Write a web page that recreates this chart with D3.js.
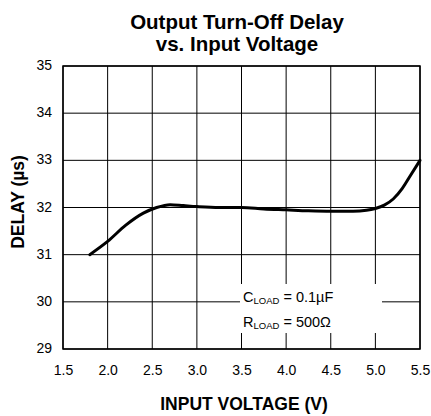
<!DOCTYPE html>
<html><head><meta charset="utf-8">
<script src="https://cdn.jsdelivr.net/npm/d3@7/dist/d3.min.js"></script>
<style>body{margin:0;background:#fff;}svg{display:block;font-family:"Liberation Sans",Arial,sans-serif;}</style>
</head><body>
<script>
const voltage = [1.8, 2.0, 2.2, 2.4, 2.55, 2.7, 2.85, 3.0, 3.25, 3.5, 3.75, 4.0, 4.25, 4.5, 4.75, 4.9, 5.0, 5.1, 5.2, 5.3, 5.4, 5.5];
const delay   = [31.0, 31.28, 31.62, 31.88, 32.0, 32.06, 32.04, 32.02, 32.0, 32.0, 31.97, 31.95, 31.93, 31.92, 31.92, 31.94, 31.98, 32.05, 32.18, 32.4, 32.7, 33.0];
const xTicks = [1.5, 2.0, 2.5, 3.0, 3.5, 4.0, 4.5, 5.0, 5.5];
const yTicks = [29, 30, 31, 32, 33, 34, 35];

const W = 431, H = 416;
const m = {l: 63, r: 11, t: 66, b: 67};
const svg = d3.select("body").append("svg").attr("width", W).attr("height", H);
const x = d3.scaleLinear().domain([1.5, 5.5]).range([m.l, W - m.r]);
const y = d3.scaleLinear().domain([29, 35]).range([H - m.b, m.t]);

// grid
svg.append("g").selectAll("line").data(xTicks).join("line")
  .attr("x1", d => x(d)).attr("x2", d => x(d)).attr("y1", y(29)).attr("y2", y(35))
  .attr("stroke", "#000").attr("stroke-width", 1);
svg.append("g").selectAll("line").data(yTicks).join("line")
  .attr("y1", d => y(d)).attr("y2", d => y(d)).attr("x1", x(1.5)).attr("x2", x(5.5))
  .attr("stroke", "#000").attr("stroke-width", 1);

// legend box (white)
svg.append("rect").attr("x", 240).attr("y", 284).attr("width", 142).attr("height", 49).attr("fill", "#fff");

// frame
svg.append("rect").attr("x", x(1.5)).attr("y", y(35)).attr("width", x(5.5) - x(1.5)).attr("height", y(29) - y(35))
  .attr("fill", "none").attr("stroke", "#000").attr("stroke-width", 1.5);

// axes labels
const xa = d3.axisBottom(x).tickValues(xTicks).tickFormat(d3.format(".1f")).tickSize(0).tickPadding(16);
svg.append("g").attr("transform", `translate(0,${y(29)})`).call(xa)
  .call(g => g.select(".domain").remove())
  .selectAll("text").attr("font-size", 14).attr("font-family", "Liberation Sans, Arial, sans-serif").attr("fill", "#000");
const ya = d3.axisLeft(y).tickValues(yTicks).tickFormat(d3.format("d")).tickSize(0).tickPadding(11);
svg.append("g").attr("transform", `translate(${x(1.5)},0)`).call(ya)
  .call(g => g.select(".domain").remove())
  .selectAll("text").attr("font-size", 14).attr("font-family", "Liberation Sans, Arial, sans-serif").attr("fill", "#000")
  .attr("dy", "0.25em");

// curve
const pts = voltage.map((v, i) => [v, delay[i]]);
svg.append("path").datum(pts)
  .attr("d", d3.line().x(d => x(d[0])).y(d => y(d[1])).curve(d3.curveMonotoneX))
  .attr("fill", "none").attr("stroke", "#000").attr("stroke-width", 3).attr("stroke-linecap", "round");

// legend text
const lg = svg.append("g").attr("font-size", 14.5).attr("fill", "#000");
const t1 = lg.append("text").attr("x", 243).attr("y", 302);
t1.append("tspan").text("C");
t1.append("tspan").attr("font-size", 9.5).attr("dy", 2).text("LOAD");
t1.append("tspan").attr("dy", -2).text(" = 0.1µF");
const t2 = lg.append("text").attr("x", 243).attr("y", 327);
t2.append("tspan").text("R");
t2.append("tspan").attr("font-size", 9.5).attr("dy", 2).text("LOAD");
t2.append("tspan").attr("dy", -2).text(" = 500Ω");

// titles
svg.append("text").attr("x", 237).attr("y", 29).attr("text-anchor", "middle")
  .attr("font-size", 20.5).attr("font-weight", "bold").text("Output Turn-Off Delay");
svg.append("text").attr("x", 237).attr("y", 51).attr("text-anchor", "middle")
  .attr("font-size", 20.5).attr("font-weight", "bold").text("vs. Input Voltage");
svg.append("text").attr("x", 244).attr("y", 410).attr("text-anchor", "middle")
  .attr("font-size", 17.5).attr("font-weight", "bold").text("INPUT VOLTAGE (V)");
svg.append("text").attr("transform", `translate(24,202) rotate(-90)`).attr("text-anchor", "middle")
  .attr("font-size", 17.5).attr("font-weight", "bold").text("DELAY (µs)");
</script>
</body></html>
